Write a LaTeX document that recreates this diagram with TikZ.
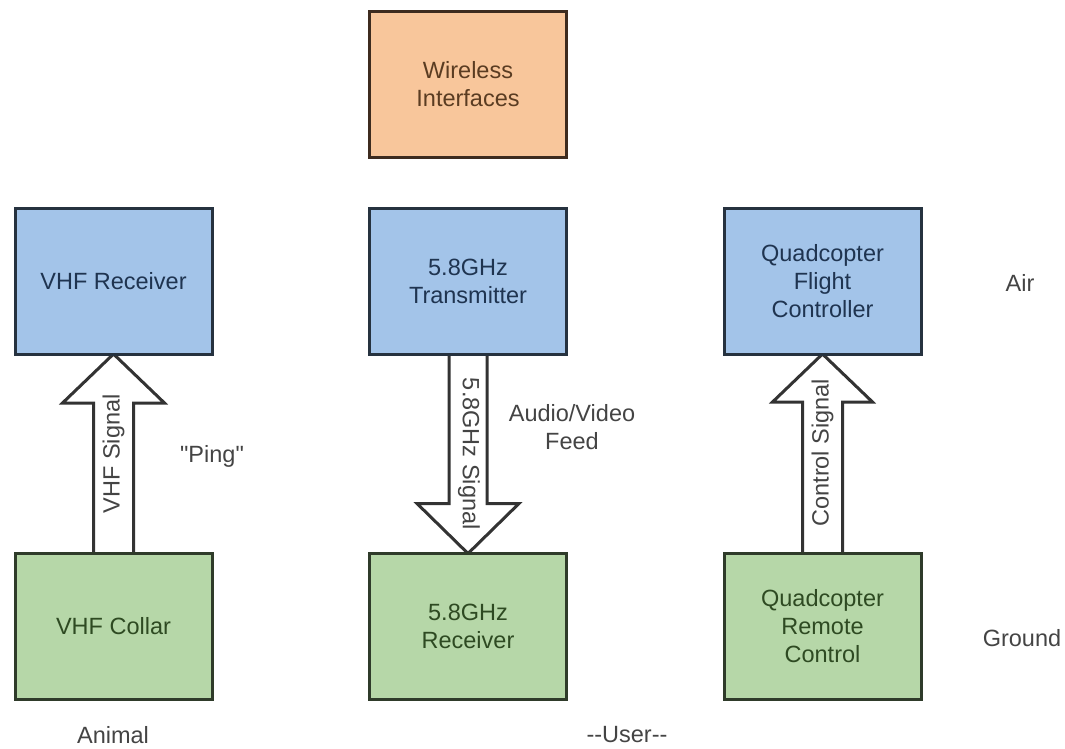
\documentclass[tikz,border=0pt]{standalone}
\usepackage{fontspec}
\setmainfont{Liberation Sans}[Ligatures=TeXOff]
\usetikzlibrary{calc,backgrounds}
\definecolor{orfill}{HTML}{F8C69B}
\definecolor{orline}{HTML}{3D2B1F}
\definecolor{ortext}{HTML}{5A3C22}
\definecolor{blfill}{HTML}{A3C4E9}
\definecolor{blline}{HTML}{26323F}
\definecolor{bltext}{HTML}{1F3450}
\definecolor{grfill}{HTML}{B6D7A8}
\definecolor{grline}{HTML}{2F3B2A}
\definecolor{grtext}{HTML}{2E4A22}
\definecolor{lbltext}{HTML}{444444}
\definecolor{arline}{HTML}{333333}
\tikzset{
  boxbase/.style={rectangle, line width=3pt, minimum width=197pt, minimum height=146pt,
    align=center, font=\fontsize{23.5}{28}\selectfont, outer sep=0pt, inner sep=2pt},
  orbox/.style={boxbase, draw=orline, fill=orfill, text=ortext},
  blbox/.style={boxbase, draw=blline, fill=blfill, text=bltext},
  grbox/.style={boxbase, draw=grline, fill=grfill, text=grtext},
  lbl/.style={align=center, font=\fontsize{23.5}{28}\selectfont, text=lbltext, inner sep=0pt},
  fatarrow/.style={draw=arline, fill=white, line width=3pt, line join=miter},
  arrlbl/.style={font=\fontsize{23.5}{28}\selectfont, text=lbltext, inner sep=0pt}
}
\begin{document}
\begin{tikzpicture}[x=1pt,y=-1pt]
\useasboundingbox (0,0) rectangle (1065,748);
\node[orbox] (wi) at (468,84) {Wireless\\Interfaces};
\node[blbox] (vr) at (113.5,281) {VHF Receiver};
\node[blbox] (tx) at (468,281) {5.8GHz\\Transmitter};
\node[blbox] (fc) at (822.5,281) {Quadcopter\\Flight\\Controller};
\node[grbox] (vc) at (113.5,626.5) {VHF Collar};
\node[grbox] (rx) at (468,626.5) {5.8GHz\\Receiver};
\node[grbox] (rc) at (822.5,626.5) {Quadcopter\\Remote\\Control};
\begin{pgfonlayer}{background}
% VHF up arrow
\filldraw[fatarrow] ($(vc.north)+(-20,0)$) -- ($(vr.south)+(-20,49)$) -- ($(vr.south)+(-51,49)$) -- (vr.south) -- ($(vr.south)+(51,49)$) -- ($(vr.south)+(20,49)$) -- ($(vc.north)+(20,0)$);
% 5.8GHz down arrow
\filldraw[fatarrow] ($(tx.south)+(-19,0)$) -- ($(rx.north)+(-19,-50)$) -- ($(rx.north)+(-51,-50)$) -- (rx.north) -- ($(rx.north)+(51,-50)$) -- ($(rx.north)+(19,-50)$) -- ($(tx.south)+(19,0)$);
% Control up arrow
\filldraw[fatarrow] ($(rc.north)+(-20,0)$) -- ($(fc.south)+(-20,48)$) -- ($(fc.south)+(-50,48)$) -- (fc.south) -- ($(fc.south)+(50,48)$) -- ($(fc.south)+(20,48)$) -- ($(rc.north)+(20,0)$);
\end{pgfonlayer}
\node[arrlbl, rotate=90] (vs) at ($(vr.south)!0.5!(vc.north)$) {VHF Signal};
\node[arrlbl, rotate=-90] (gs) at ($(tx.south)!0.5!(rx.north)+(1,0)$) {5.8GHz Signal};
\node[arrlbl, rotate=90] (cs) at ($(fc.south)!0.5!(rc.north)+(0,-1)$) {Control Signal};
% labels
\node[lbl] (ping) at (212,456) {"Ping"};
\node[lbl] (avf) at (572,427) {Audio/Video\\Feed};
\node[lbl] (air) at (1020,283) {Air};
\node[lbl] (gnd) at (1022,638) {Ground};
\node[lbl] (ani) at (113,735) {Animal};
\node[lbl] (usr) at (627,735) {--User--};
\end{tikzpicture}
\end{document}
